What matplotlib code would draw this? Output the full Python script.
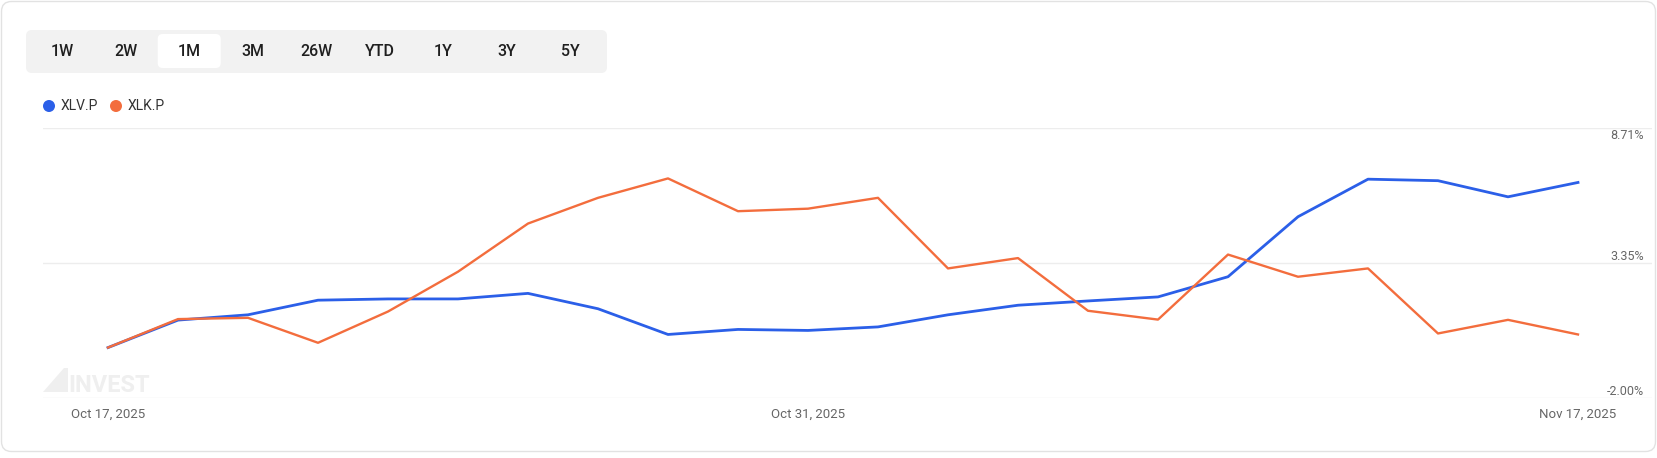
import matplotlib
matplotlib.use("Agg")
import matplotlib.pyplot as plt
import pandas as pd
from matplotlib.patches import FancyBboxPatch, Circle, Polygon

plt.rcParams['font.family'] = ['Roboto', 'DejaVu Sans']

# trading days, Oct 17 -> Nov 17 2025
dates = pd.bdate_range("2025-10-17", "2025-11-17")

# % change since start
xlv = [0.00, 1.09, 1.30, 1.88, 1.93, 1.93, 2.15, 1.54, 0.52, 0.72, 0.68,
       0.82, 1.30, 1.68, 1.85, 2.01, 2.81, 5.19, 6.68, 6.62, 5.98, 6.55]
xlk = [0.00, 1.13, 1.18, 0.19, 1.43, 3.01, 4.92, 5.94, 6.71, 5.41, 5.51,
       5.94, 3.14, 3.55, 1.46, 1.11, 3.69, 2.81, 3.14, 0.56, 1.10, 0.52]
series_names = ["XLV.P", "XLK.P"]
colors = ["#2b5fe8", "#f36d3d"]

periods = ["1W", "2W", "1M", "3M", "26W", "YTD", "1Y", "3Y", "5Y"]
selected = "1M"
y_ticks = [-2.00, 3.35, 8.71]
date_ticks = [0, 10, 21]

W, H = 1658, 458
fig = plt.figure(figsize=(W / 100, H / 100), dpi=100)

# background layer in pixel coords (y down)
bg = fig.add_axes([0, 0, 1, 1])
bg.set_xlim(0, W)
bg.set_ylim(H, 0)
bg.axis('off')

# card
bg.add_patch(FancyBboxPatch((1.5, 1.5), W - 4, 450, boxstyle="round,pad=0,rounding_size=10",
                            fc='white', ec='#e2e2e2', lw=1))

# period selector
bg.add_patch(FancyBboxPatch((26, 30), 581, 43, boxstyle="round,pad=0,rounding_size=6",
                            fc='#f2f2f2', ec='none'))
for i, p in enumerate(periods):
    cx = 62 + i * 63.6
    if p == selected:
        bg.add_patch(FancyBboxPatch((cx - 31.5, 34), 63, 34, boxstyle="round,pad=0,rounding_size=5",
                                    fc='white', ec='none'))
    bg.text(cx, 52, p, ha='center', va='center', fontsize=11.5, fontweight='medium', color='#1f1f1f')

# legend
lx = 49
for name, c in zip(series_names, colors):
    bg.add_patch(Circle((lx, 106), 6, fc=c, ec='none'))
    t = bg.text(lx + 12, 106, name, ha='left', va='center', fontsize=10, color='#333333')
    lx += 67

# watermark
wm = '#efefef'
bg.add_patch(Polygon([(43, 392), (64, 368), (68, 368), (68, 392)], closed=True, fc=wm, ec='none'))
bg.text(68, 392, "INVEST", ha='left', va='baseline', fontsize=17, fontweight='bold', color=wm)

# chart
ax = fig.add_axes([43 / W, (H - 398) / H, (1652 - 43) / W, 270 / H], zorder=2)
ax.patch.set_alpha(0)
n = len(dates)
ax.set_xlim(-65 / 70, n - 1 + 74 / 70)
ax.set_ylim(y_ticks[0], y_ticks[-1])
for s in ax.spines.values():
    s.set_visible(False)

ax.set_yticks(y_ticks)
ax.yaxis.grid(True, color='#ededed', lw=1)
ax.tick_params(axis='y', length=0, labelleft=False)

for v in y_ticks:
    dy = -8 if v == y_ticks[-1] else 2.2
    ax.annotate(f"{v:.2f}%", xy=(1, v), xycoords=('axes fraction', 'data'),
                xytext=(-6, dy), textcoords='offset points', ha='right', va='baseline',
                fontsize=9, color='#666666')

ax.set_xticks(date_ticks, labels=[f"{dates[i]:%b} {dates[i].day}, {dates[i].year}" for i in date_ticks])
ax.tick_params(axis='x', length=0, pad=7, labelsize=9.5, labelcolor='#666666')

x = list(range(n))
ax.plot(x, xlv, color=colors[0], lw=2.0, solid_joinstyle='round')
ax.plot(x, xlk, color=colors[1], lw=1.7, solid_joinstyle='round')

fig.savefig("out.png", dpi=100)
